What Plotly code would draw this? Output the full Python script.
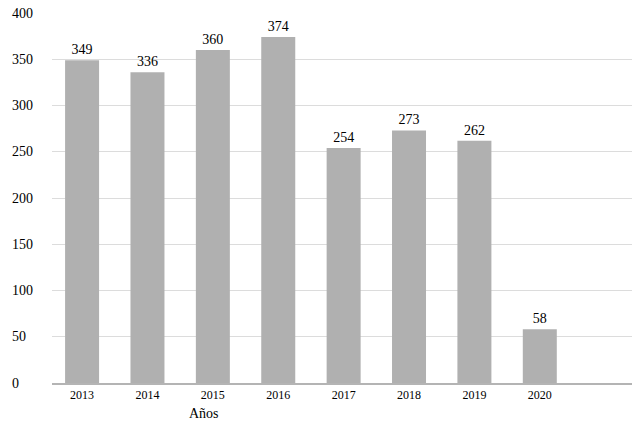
import plotly.graph_objects as go

years = ["2013", "2014", "2015", "2016", "2017", "2018", "2019", "2020"]
values = [349, 336, 360, 374, 254, 273, 262, 58]
y_ticks = [0, 50, 100, 150, 200, 250, 300, 350, 400]
x_title = "Años"

FONT = "Liberation Serif, Times New Roman, serif"

fig = go.Figure()
fig.add_trace(go.Bar(
    x=years, y=values,
    marker=dict(color="#b0b0b0", line=dict(width=0)),
    text=[str(v) for v in values],
    textposition="outside",
    textfont=dict(family=FONT, size=14, color="#000000"),
    cliponaxis=False,
))

annotations = [
    dict(x=0.0, xref="paper", xshift=-42, y=t, yref="y", text=str(t),
         showarrow=False, xanchor="left", yanchor="middle",
         font=dict(family=FONT, size=14, color="#000000"))
    for t in y_ticks
]
annotations.append(dict(x=2.0, xref="x", xshift=-9, y=0, yref="paper", yshift=-30,
                        text=x_title, showarrow=False, xanchor="center", yanchor="middle",
                        font=dict(family=FONT, size=14, color="#000000")))

fig.update_layout(
    width=640, height=431,
    margin=dict(l=52, r=8, t=13, b=48),
    paper_bgcolor="white", plot_bgcolor="white",
    bargap=0.48,
    showlegend=False,
    font=dict(family=FONT, size=12, color="#000000"),
    xaxis=dict(type="category", range=[-0.46, 8.41], showgrid=False,
               showline=True, linecolor="#b4b4b4", linewidth=2,
               ticks="", ticklabelstandoff=0,
               tickfont=dict(family=FONT, size=12, color="#000000")),
    yaxis=dict(range=[0, 400], tickvals=y_ticks, showticklabels=False,
               showgrid=True, gridcolor="#dcdcdc", gridwidth=1,
               zeroline=False, showline=False),
    annotations=annotations,
)

fig.write_html("out.html",
               config={"displayModeBar": False},
               post_script="document.body.style.margin='0';document.body.style.padding='0';")
